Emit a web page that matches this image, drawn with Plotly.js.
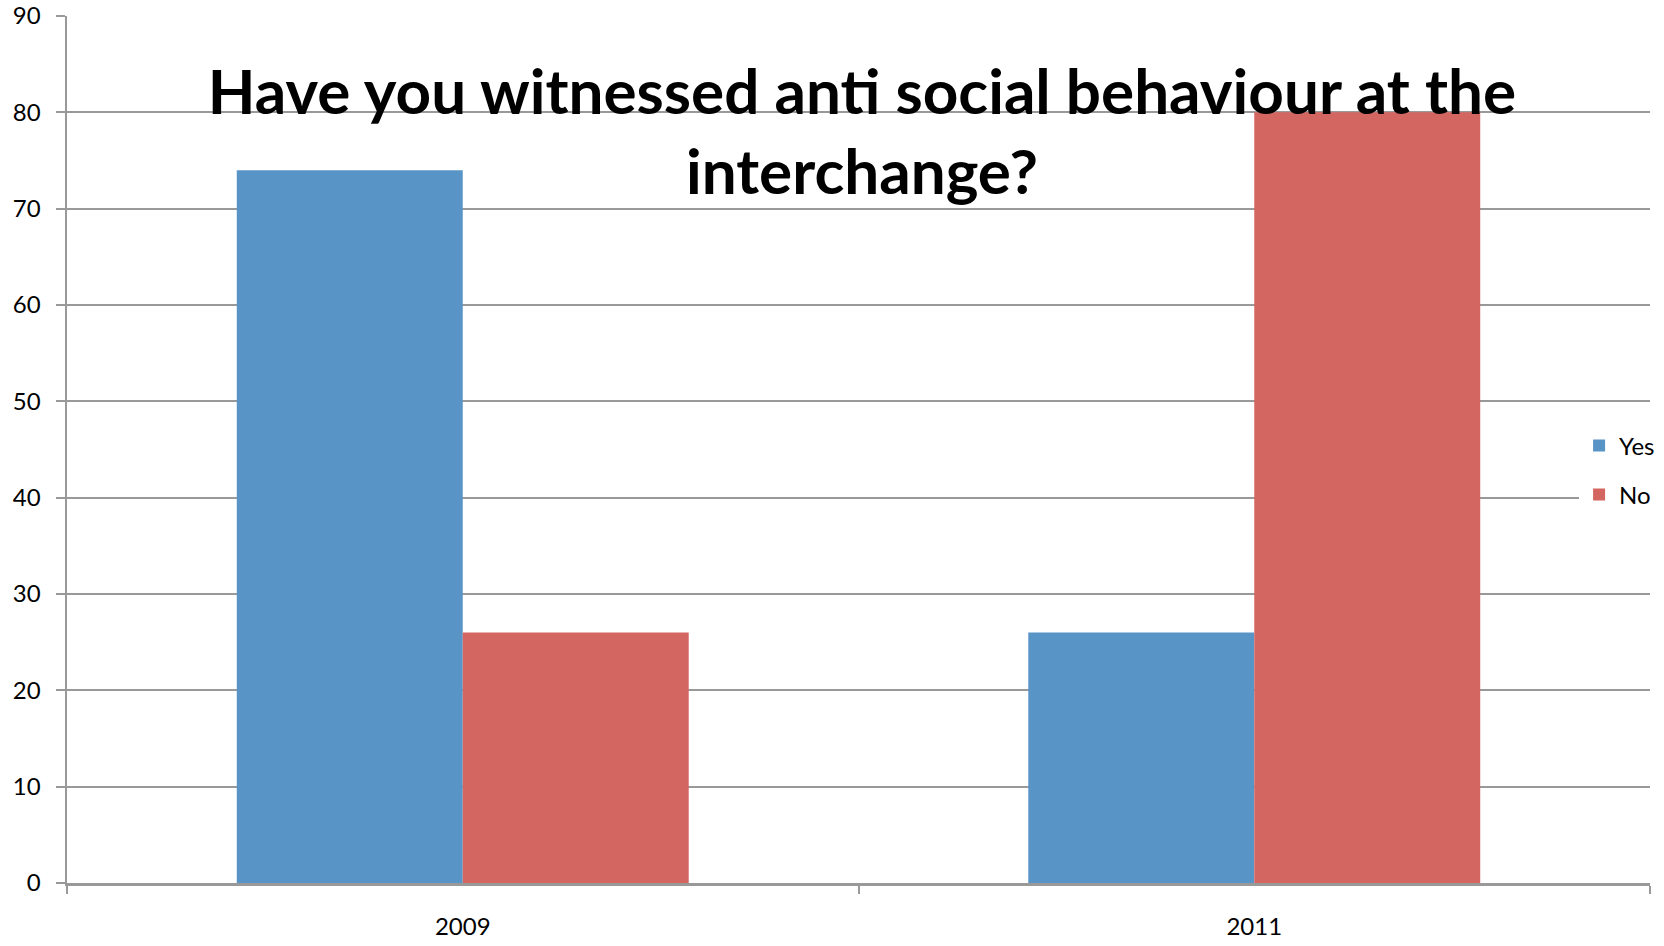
<!DOCTYPE html>
<html>
<head>
<meta charset="utf-8">
<script src="https://cdn.plot.ly/plotly-3.0.1.min.js"></script>
<style>html,body{margin:0;padding:0;background:#fff;}#chart{width:1664px;height:946px;}</style>
</head>
<body>
<div id="chart"></div>
<script>
const categories = ["2009", "2011"];
const seriesNames = ["Yes", "No"];
const yesValues = [74, 26];
const noValues = [26, 80];
const yTickValues = [0, 10, 20, 30, 40, 50, 60, 70, 80, 90];
const titleText = "Have you witnessed anti social behaviour at the<br>interchange?";

const FONT = "Lato, 'Open Sans', sans-serif";
const traces = [
  {type: "bar", name: seriesNames[0], x: categories, y: yesValues, marker: {color: "#5994C7"}, legendgroup: "a"},
  {type: "bar", name: seriesNames[1], x: categories, y: noValues, marker: {color: "#D46661"}, legendgroup: "b"}
];
const layout = {
  width: 1664, height: 946,
  margin: {l: 67, r: 14, t: 16, b: 63, pad: 0, autoexpand: false},
  paper_bgcolor: "#fff", plot_bgcolor: "#fff",
  barmode: "group", bargap: 0.429, bargroupgap: 0,
  font: {family: FONT, color: "#000", size: 24},
  title: {text: titleText, font: {family: FONT, size: 62, weight: "bold", color: "#000"},
          x: 0.518, xanchor: "center", y: 0.88, yanchor: "top", yref: "container"},
  xaxis: {type: "category", range: [-0.5, 1.5], showline: true, linecolor: "#999", linewidth: 2.5,
          ticks: "outside", tickson: "boundaries", ticklen: 8, tickcolor: "#999", tickwidth: 2,
          showgrid: false, tickfont: {size: 24}, ticklabelstandoff: 21, fixedrange: true},
  yaxis: {range: [0, 90], tickvals: yTickValues, showline: true, linecolor: "#999", linewidth: 2.5,
          ticks: "outside", ticklen: 9, tickcolor: "#999", tickwidth: 2, ticklabelstandoff: 10,
          showgrid: true, gridcolor: "#999", gridwidth: 2, zeroline: false, tickfont: {size: 24}},
  legend: {x: 0.9552, xanchor: "left", y: 0.476, yanchor: "middle", bgcolor: "#fff",
           traceorder: "grouped", tracegroupgap: 15, font: {size: 24}, borderwidth: 0},
  showlegend: true
};
Plotly.newPlot("chart", traces, layout, {displayModeBar: false, staticPlot: true});
</script>
</body>
</html>
